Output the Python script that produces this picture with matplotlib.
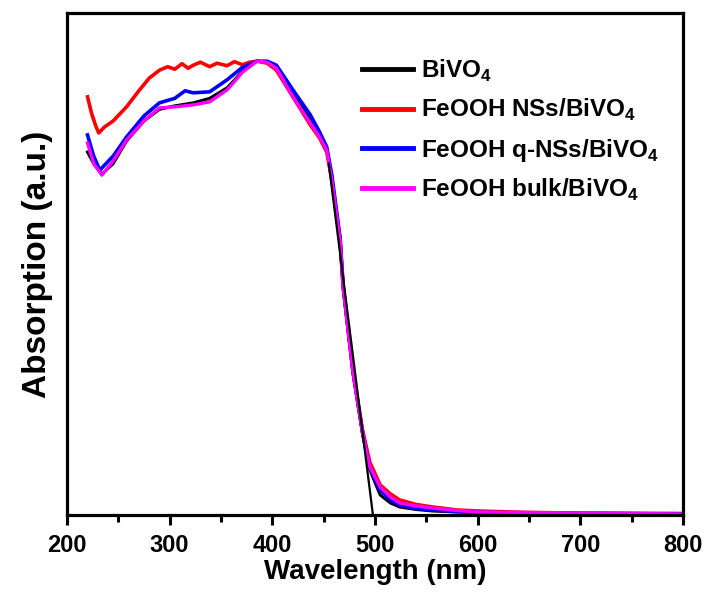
import matplotlib.pyplot as plt

plt.rcParams['font.family'] = ['Liberation Sans', 'DejaVu Sans']
plt.rcParams['font.weight'] = 'bold'
plt.rcParams['mathtext.fontset'] = 'custom'
plt.rcParams['mathtext.rm'] = 'Liberation Sans'
plt.rcParams['mathtext.bf'] = 'Liberation Sans:bold'

# Spectra (normalised absorption)
wl_bivo4 = [220, 226, 234, 245, 258, 275, 290, 305, 323, 339, 356, 371, 385, 395, 404, 420, 437, 446, 453,
            458, 466, 469, 478.6, 488, 495, 505, 515, 524, 540, 556, 580, 600, 650, 700, 800]
abs_bivo4 = [0.723, 0.70, 0.679, 0.70, 0.745, 0.785, 0.808, 0.815, 0.821, 0.830, 0.851, 0.884, 0.904, 0.902, 0.893, 0.843, 0.787, 0.757, 0.73,
             0.667, 0.548, 0.454, 0.283, 0.160, 0.090, 0.040, 0.024, 0.016, 0.011, 0.008, 0.006, 0.005, 0.004, 0.003, 0.002]

wl_nss = [220, 224, 228, 231, 236, 245, 258, 270, 280, 290, 298, 305, 312, 318, 323, 330, 339, 346, 356, 363, 371, 378, 385, 395, 404, 420, 437, 446, 453,
          458, 466, 469, 478.6, 488, 495, 505, 515, 524, 540, 556, 580, 600, 650, 700, 800]
abs_nss = [0.833, 0.80, 0.775, 0.761, 0.772, 0.785, 0.813, 0.845, 0.870, 0.886, 0.893, 0.888, 0.899, 0.890, 0.896, 0.902, 0.893, 0.900, 0.895, 0.903, 0.897, 0.902, 0.904, 0.900, 0.886, 0.833, 0.777, 0.751, 0.723,
           0.667, 0.548, 0.454, 0.285, 0.168, 0.105, 0.060, 0.042, 0.030, 0.021, 0.016, 0.010, 0.008, 0.005, 0.004, 0.003]

wl_qnss = [220, 226, 232, 245, 258, 275, 290, 305, 315, 323, 339, 356, 371, 385, 395, 404, 420, 437, 446, 453,
           458, 466, 469, 478.6, 488, 495, 505, 515, 524, 540, 556, 580, 600, 650, 700, 800]
abs_qnss = [0.757, 0.715, 0.687, 0.715, 0.753, 0.795, 0.821, 0.830, 0.845, 0.841, 0.843, 0.867, 0.892, 0.904, 0.904, 0.896, 0.847, 0.797, 0.763, 0.733,
            0.677, 0.552, 0.456, 0.285, 0.163, 0.094, 0.050, 0.030, 0.020, 0.013, 0.010, 0.007, 0.005, 0.004, 0.003, 0.002]

wl_bulk = [220, 226, 234, 245, 258, 275, 290, 305, 323, 339, 356, 371, 385, 395, 404, 420, 437, 446, 453,
           458, 466, 469, 478.6, 488, 495, 505, 515, 524, 540, 556, 580, 600, 650, 700, 800]
abs_bulk = [0.741, 0.70, 0.677, 0.705, 0.747, 0.785, 0.811, 0.813, 0.817, 0.823, 0.847, 0.882, 0.904, 0.902, 0.890, 0.833, 0.781, 0.753, 0.727,
            0.667, 0.548, 0.454, 0.283, 0.163, 0.096, 0.056, 0.036, 0.024, 0.018, 0.014, 0.009, 0.006, 0.005, 0.004, 0.002]

# tangent used for the band-edge estimate
tangent_wl = [455, 498]
tangent_abs = [0.70, 0.0]

fig = plt.figure(figsize=(7.08, 5.96), dpi=100)
ax = fig.add_axes([0.0946, 0.1359, 0.8701, 0.8423])

ax.plot(wl_bivo4, abs_bivo4, color='black', lw=2.2, label=r'BiVO$_\mathbf{4}$')
ax.plot(wl_nss, abs_nss, color='red', lw=2.6, label=r'FeOOH NSs/BiVO$_\mathbf{4}$')
ax.plot(wl_qnss, abs_qnss, color='blue', lw=2.6, label=r'FeOOH q-NSs/BiVO$_\mathbf{4}$')
ax.plot(wl_bulk, abs_bulk, color='magenta', lw=2.4, label=r'FeOOH bulk/BiVO$_\mathbf{4}$')
ax.plot(tangent_wl, tangent_abs, color='black', lw=1.6)

ax.set_xlim(200, 800)
ax.set_ylim(0, 1.0)
ax.set_xticks([200, 300, 400, 500, 600, 700, 800])
ax.set_xticks([250, 350, 450, 550, 650, 750], minor=True)
ax.set_yticks([])
ax.tick_params(axis='x', which='major', direction='out', length=7, width=2.2, labelsize=17, pad=7)
ax.tick_params(axis='x', which='minor', direction='out', length=5, width=2.2)
for s in ax.spines.values():
    s.set_linewidth(2.3)

ax.set_xlabel('Wavelength (nm)', fontsize=20, fontweight='bold', labelpad=1)
ax.set_ylabel('Absorption (a.u.)', fontsize=24, fontweight='bold', labelpad=10)

leg = ax.legend(loc='upper left', bbox_to_anchor=(0.443, 0.955), frameon=False, fontsize=17.5,
                handlelength=2.1, handletextpad=0.35, labelspacing=0.55)
for line in leg.get_lines():
    line.set_linewidth(3.5)

fig.savefig('out.png', dpi=100)
